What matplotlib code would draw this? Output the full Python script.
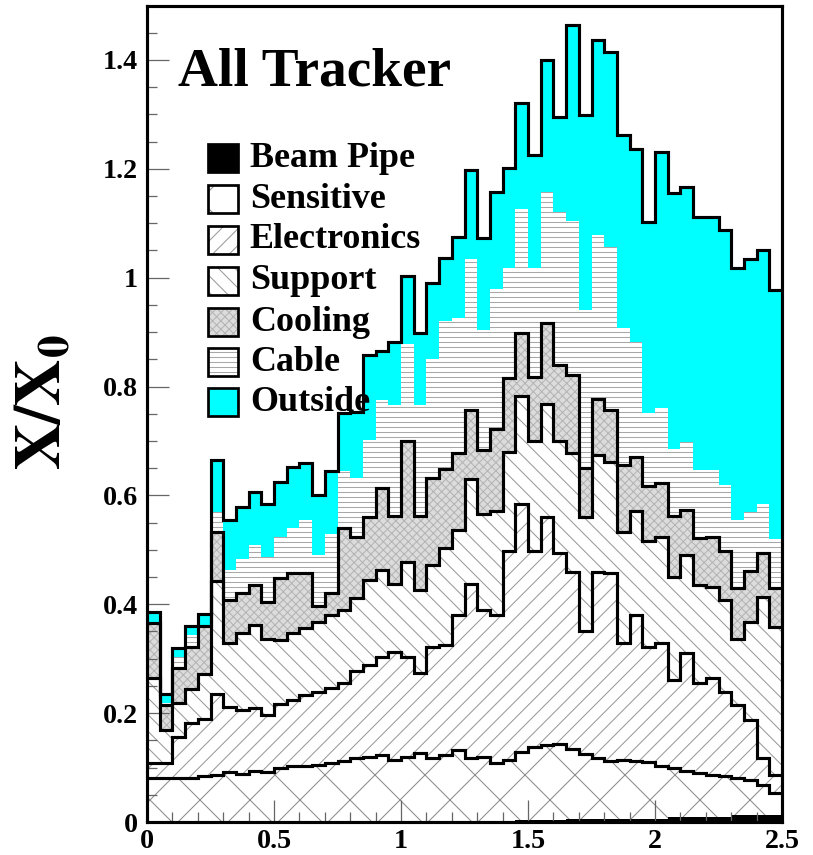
import numpy as np
import matplotlib
matplotlib.use('Agg')
import matplotlib.pyplot as plt
from matplotlib.patches import Rectangle
from matplotlib.ticker import MultipleLocator

# eta binning of the material budget histograms
eta_lo = 0.0
eta_hi = 2.5
n_bins = 50

# X/X0 contribution of each category in every eta bin
beam_pipe = [0.001, 0.001, 0.001, 0.001, 0.001, 0.001, 0.001, 0.001, 0.001, 0.001,
             0.001, 0.001, 0.001, 0.001, 0.001, 0.001, 0.001, 0.001, 0.001, 0.001,
             0.001, 0.001, 0.001, 0.001, 0.001, 0.001, 0.001, 0.001, 0.001, 0.003,
             0.003, 0.003, 0.003, 0.006, 0.006, 0.006, 0.006, 0.006, 0.006, 0.006,
             0.006, 0.010, 0.010, 0.010, 0.010, 0.010, 0.012, 0.012, 0.012, 0.012]
sensitive = [0.079, 0.079, 0.079, 0.079, 0.084, 0.085, 0.090, 0.088, 0.093, 0.091,
             0.098, 0.101, 0.102, 0.104, 0.107, 0.111, 0.116, 0.119, 0.122, 0.113,
             0.119, 0.125, 0.116, 0.122, 0.131, 0.116, 0.119, 0.107, 0.113, 0.126,
             0.135, 0.138, 0.140, 0.129, 0.119, 0.112, 0.106, 0.107, 0.106, 0.104,
             0.096, 0.089, 0.083, 0.080, 0.076, 0.075, 0.068, 0.066, 0.056, 0.041]
electronics = [0.028, 0.028, 0.077, 0.101, 0.105, 0.150, 0.121, 0.116, 0.115, 0.105,
               0.117, 0.123, 0.130, 0.134, 0.139, 0.144, 0.160, 0.168, 0.181, 0.199,
               0.184, 0.147, 0.205, 0.202, 0.248, 0.321, 0.269, 0.272, 0.383, 0.456,
               0.359, 0.420, 0.351, 0.325, 0.225, 0.342, 0.345, 0.215, 0.268, 0.212,
               0.226, 0.162, 0.217, 0.165, 0.178, 0.154, 0.135, 0.109, 0.049, 0.033]
support = [0.156, 0.061, 0.061, 0.064, 0.082, 0.206, 0.116, 0.142, 0.153, 0.140,
           0.118, 0.122, 0.123, 0.129, 0.133, 0.134, 0.135, 0.157, 0.159, 0.125,
           0.174, 0.153, 0.150, 0.178, 0.156, 0.193, 0.176, 0.192, 0.183, 0.198,
           0.203, 0.207, 0.206, 0.217, 0.211, 0.214, 0.205, 0.205, 0.192, 0.195,
           0.196, 0.189, 0.180, 0.181, 0.168, 0.169, 0.122, 0.181, 0.297, 0.273]
cooling = [0.102, 0.046, 0.064, 0.077, 0.088, 0.091, 0.080, 0.073, 0.073, 0.068,
           0.114, 0.110, 0.101, 0.028, 0.040, 0.150, 0.112, 0.116, 0.151, 0.124,
           0.222, 0.136, 0.160, 0.145, 0.142, 0.125, 0.118, 0.150, 0.135, 0.115,
           0.118, 0.148, 0.140, 0.145, 0.089, 0.104, 0.095, 0.122, 0.099, 0.101,
           0.099, 0.112, 0.083, 0.085, 0.092, 0.089, 0.093, 0.094, 0.081, 0.071]
cable = [0.002, 0.003, 0.021, 0.022, 0.002, 0.037, 0.055, 0.064, 0.074, 0.082,
         0.076, 0.083, 0.098, 0.094, 0.110, 0.104, 0.108, 0.141, 0.161, 0.204,
         0.179, 0.204, 0.218, 0.272, 0.247, 0.279, 0.221, 0.258, 0.202, 0.229,
         0.199, 0.242, 0.280, 0.283, 0.290, 0.300, 0.300, 0.253, 0.211, 0.133,
         0.137, 0.124, 0.126, 0.126, 0.123, 0.122, 0.125, 0.108, 0.090, 0.089]
outside = [0.018, 0.018, 0.017, 0.016, 0.021, 0.095, 0.092, 0.095, 0.098, 0.098,
           0.101, 0.113, 0.104, 0.111, 0.114, 0.108, 0.122, 0.156, 0.091, 0.115,
           0.124, 0.132, 0.140, 0.116, 0.150, 0.163, 0.168, 0.178, 0.184, 0.193,
           0.208, 0.242, 0.176, 0.359, 0.359, 0.359, 0.358, 0.355, 0.355, 0.352,
           0.471, 0.469, 0.468, 0.465, 0.465, 0.469, 0.462, 0.464, 0.465, 0.459]

categories = ['Beam Pipe', 'Sensitive', 'Electronics', 'Support', 'Cooling', 'Cable', 'Outside']
x_ticks = [0, 0.5, 1, 1.5, 2, 2.5]
x_tick_labels = ['0', '0.5', '1', '1.5', '2', '2.5']
y_ticks = [0, 0.2, 0.4, 0.6, 0.8, 1.0, 1.2, 1.4]
y_tick_labels = ['0', '0.2', '0.4', '0.6', '0.8', '1', '1.2', '1.4']
title = 'All Tracker'

# fill / hatch style per category: facecolor, hatch colour, hatch, black outline on top
styles = {
    'Beam Pipe':   ('black',   'black',   None,      False),
    'Sensitive':   ('white',   '#8c8c8c', 'x',       True),
    'Electronics': ('white',   '#9a9a9a', '///',     True),
    'Support':     ('white',   '#9a9a9a', '\\\\\\',  True),
    'Cooling':     ('#dcdcdc', '#b4b4b4', 'xxxxxx',  True),
    'Cable':       ('white',   '#a8a8a8', '-----',   False),
    'Outside':     ('#00ffff', '#00ffff', None,      True),
}

plt.rcParams['font.family'] = ['Liberation Serif', 'DejaVu Serif']
plt.rcParams['font.weight'] = 'bold'
plt.rcParams['mathtext.fontset'] = 'stix'
plt.rcParams['hatch.linewidth'] = 0.5

dpi = 150
fig = plt.figure(figsize=(813 / dpi, 855 / dpi), dpi=dpi)
ax = fig.add_axes([147 / 813, 33 / 855, 635 / 813, 816.5 / 855])

edges = np.linspace(eta_lo, eta_hi, n_bins + 1)
layers = [beam_pipe, sensitive, electronics, support, cooling, cable, outside]
tops = np.cumsum(np.array(layers), axis=0)

bottom = np.zeros(n_bins)
for name, top in zip(categories, tops):
    fc, hc, hatch, _ = styles[name]
    ax.stairs(top, edges, baseline=bottom, fill=True, facecolor=fc,
              edgecolor=hc, hatch=hatch, linewidth=0, zorder=1)
    bottom = top

# black outlines of the stacked histograms
for name, top in zip(categories, tops):
    if styles[name][3]:
        ax.stairs(top, edges, baseline=None, color='black', linewidth=1.5, zorder=2)

ax.set_xlim(eta_lo, eta_hi)
ax.set_ylim(0, 1.5)
ax.set_xticks(x_ticks)
ax.set_xticklabels(x_tick_labels)
ax.set_yticks(y_ticks)
ax.set_yticklabels(y_tick_labels)
ax.xaxis.set_minor_locator(MultipleLocator(0.1))
ax.yaxis.set_minor_locator(MultipleLocator(0.05))
ax.tick_params(which='both', direction='in', top=False, right=False,
               color='0.4', width=0.6, labelsize=13.5)
ax.tick_params(which='major', length=10.5)
ax.tick_params(which='minor', length=5)
ax.tick_params(axis='x', pad=3.5)
ax.tick_params(axis='y', pad=4.5)
for sp in ax.spines.values():
    sp.set_linewidth(1.5)
    sp.set_zorder(3)

fig.text(45 / 813, 1 - 402 / 855, r'$\mathbf{X/X_0}$', rotation=90,
         fontsize=31, ha='center', va='center')

ax.text(0.049, 0.918, title, transform=ax.transAxes, fontsize=26.5,
        fontweight='bold', ha='left', va='center')

# legend drawn by hand to follow the ROOT layout
box_x, box_w, box_h = 0.0961, 0.0472, 0.034
text_x = 0.162
row_y = [0.813, 0.763, 0.713, 0.663, 0.612, 0.563, 0.514]
for name, yc in zip(categories, row_y):
    fc, hc, hatch, _ = styles[name]
    ax.add_patch(Rectangle((box_x, yc - box_h / 2), box_w, box_h, transform=ax.transAxes,
                           facecolor=fc, edgecolor=hc, hatch=hatch, linewidth=0, zorder=4))
    ax.add_patch(Rectangle((box_x, yc - box_h / 2), box_w, box_h, transform=ax.transAxes,
                           fill=False, edgecolor='black', linewidth=1.3, zorder=5))
    ax.text(text_x, yc, name, transform=ax.transAxes, fontsize=17.3,
            fontweight='bold', ha='left', va='center', zorder=5)

fig.savefig('out.png', dpi=dpi)
